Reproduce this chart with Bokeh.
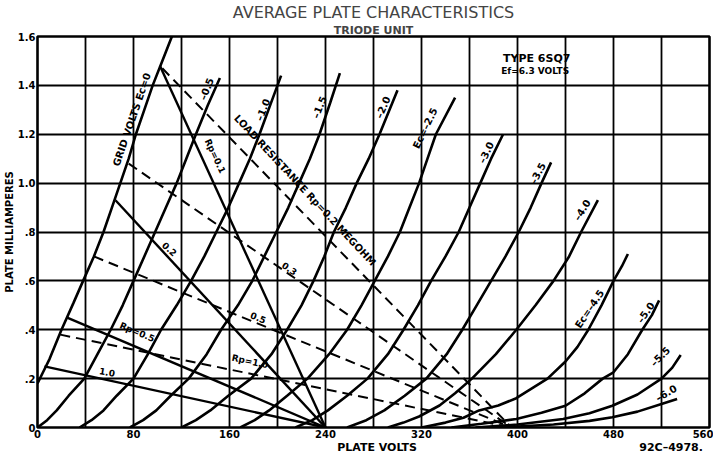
from bokeh.plotting import figure
from bokeh.models import Label, FixedTicker, Range1d, CustomJSTickFormatter, Title, LinearAxis
from bokeh.embed import file_html
from bokeh.resources import INLINE

# ---------------- data ----------------
# plate characteristics: plate volts (v) and plate milliamperes (i) per grid voltage
ec_0_v = [0, 5, 10, 20, 30, 38, 47, 55, 62, 69, 76, 82, 89, 96, 104, 112]
ec_0_i = [0.18, 0.23, 0.28, 0.40, 0.51, 0.60, 0.70, 0.80, 0.90, 1.00, 1.10, 1.20, 1.30, 1.40, 1.50, 1.60]

ec_05_v = [0, 8, 16, 26, 39, 50, 61, 71, 80, 89, 98, 107, 116, 124, 132, 142, 152]
ec_05_i = [0, 0.03, 0.07, 0.13, 0.20, 0.30, 0.40, 0.50, 0.60, 0.70, 0.80, 0.90, 1.00, 1.10, 1.20, 1.32, 1.43]

ec_10_v = [35, 45, 55, 66, 80, 92, 103, 116, 128, 139, 149, 159, 168, 177, 185, 194, 203]
ec_10_i = [0, 0.03, 0.07, 0.13, 0.20, 0.30, 0.40, 0.50, 0.60, 0.70, 0.80, 0.90, 1.00, 1.10, 1.20, 1.32, 1.44]

ec_15_v = [77, 88, 99, 111, 126, 141, 153, 167, 179, 189, 199, 209, 218, 227, 235, 244, 252]
ec_15_i = [0, 0.03, 0.07, 0.13, 0.20, 0.30, 0.40, 0.50, 0.60, 0.70, 0.80, 0.90, 1.00, 1.10, 1.20, 1.33, 1.45]

ec_20_v = [120, 132, 144, 159, 178, 195, 208, 220, 230, 239, 247, 257, 266, 276, 285, 300]
ec_20_i = [0, 0.03, 0.07, 0.13, 0.20, 0.30, 0.40, 0.50, 0.60, 0.70, 0.80, 0.90, 1.00, 1.10, 1.20, 1.38]

ec_25_v = [169, 181, 193, 208, 225, 243, 258, 270, 281, 292, 302, 310, 318, 325, 332, 348]
ec_25_i = [0, 0.03, 0.07, 0.13, 0.20, 0.30, 0.40, 0.50, 0.60, 0.70, 0.80, 0.90, 1.00, 1.10, 1.20, 1.35]

ec_30_v = [215, 229, 242, 258, 275, 292, 305, 317, 328, 340, 351, 360, 369, 378, 388]
ec_30_i = [0, 0.03, 0.07, 0.13, 0.20, 0.30, 0.40, 0.50, 0.60, 0.70, 0.80, 0.90, 1.00, 1.10, 1.20]

ec_35_v = [258, 274, 289, 306, 324, 341, 354, 366, 378, 390, 401, 411, 420, 428]
ec_35_i = [0, 0.03, 0.07, 0.13, 0.20, 0.30, 0.40, 0.50, 0.60, 0.70, 0.80, 0.90, 1.00, 1.085]

ec_40_v = [292, 305, 318, 335, 348, 362, 382, 399, 415, 430, 443, 453, 467]
ec_40_i = [0, 0.02, 0.045, 0.09, 0.14, 0.20, 0.30, 0.40, 0.50, 0.60, 0.70, 0.80, 0.93]

ec_45_v = [320, 340, 355, 368, 384, 399, 412, 425, 440, 450, 459, 470, 480, 487, 492]
ec_45_i = [0, 0.02, 0.04, 0.07, 0.09, 0.12, 0.16, 0.20, 0.27, 0.33, 0.40, 0.50, 0.60, 0.66, 0.71]

ec_50_v = [345, 370, 399, 420, 440, 456, 471, 480, 492, 504, 512, 518]
ec_50_i = [0, 0.015, 0.035, 0.06, 0.089, 0.14, 0.20, 0.226, 0.30, 0.40, 0.46, 0.52]

ec_55_v = [365, 400, 438, 460, 479, 500, 520, 529, 536]
ec_55_i = [0, 0.012, 0.035, 0.058, 0.089, 0.135, 0.20, 0.245, 0.297]

ec_60_v = [385, 430, 460, 479, 500, 520, 533]
ec_60_i = [0, 0.012, 0.027, 0.042, 0.065, 0.096, 0.117]

# load lines (solid: 240 V supply; dashed: ~395 V supply), start point on Ec=0 curve
solid_supply_v = 240
solid_start_v = [102, 65, 24.7, 5.8]
solid_start_i = [1.48, 0.93, 0.45, 0.25]

dashed_supply_v = 395
dashed_start_v = [104, 76, 47, 19]
dashed_start_i = [1.47, 1.08, 0.70, 0.38]

x_ticks = [0, 80, 160, 240, 320, 400, 480, 560]
y_ticks = [0, 0.2, 0.4, 0.6, 0.8, 1.0, 1.2, 1.4, 1.6]

curves = [(ec_0_v, ec_0_i), (ec_05_v, ec_05_i), (ec_10_v, ec_10_i), (ec_15_v, ec_15_i),
          (ec_20_v, ec_20_i), (ec_25_v, ec_25_i), (ec_30_v, ec_30_i), (ec_35_v, ec_35_i),
          (ec_40_v, ec_40_i), (ec_45_v, ec_45_i), (ec_50_v, ec_50_i), (ec_55_v, ec_55_i),
          (ec_60_v, ec_60_i)]

FONT = "DejaVu Sans"

# ---------------- figure ----------------
p = figure(frame_width=672, frame_height=391,
           x_range=Range1d(0, 560), y_range=Range1d(0, 1.6),
           output_backend="svg", toolbar_location=None,
           min_border_left=29, min_border_right=4, min_border_top=29, min_border_bottom=0)
p.background_fill_color = "white"
p.border_fill_color = "white"
p.outline_line_color = "black"
p.outline_line_width = 2.6

p.xgrid.ticker = FixedTicker(ticks=list(range(0, 561, 40)))
p.ygrid.ticker = FixedTicker(ticks=y_ticks)
for g in (p.xgrid, p.ygrid):
    g.grid_line_color = "black"
    g.grid_line_width = 1.8
    g.grid_line_alpha = 1.0

p.xaxis.ticker = FixedTicker(ticks=x_ticks)
p.yaxis.ticker = FixedTicker(ticks=y_ticks)
p.yaxis.formatter = CustomJSTickFormatter(code="""
if (Math.abs(tick) < 1e-9) return "0";
if (tick < 0.99) return "." + Math.round(tick * 10);
return tick.toFixed(1);
""")
p.yaxis.axis_label = "PLATE MILLIAMPERES"
for ax in (p.xaxis, p.yaxis):
    ax.axis_line_color = None
    ax.major_tick_line_color = None
    ax.minor_tick_line_color = None
    ax.major_tick_out = 0
    ax.major_label_text_font = FONT
    ax.major_label_text_font_style = "bold"
    ax.major_label_text_font_size = "10px"
    ax.major_label_text_color = "black"
    ax.major_label_standoff = 2
    ax.axis_label_text_font = FONT
    ax.axis_label_text_font_style = "bold"
    ax.axis_label_text_font_size = "10px"
    ax.axis_label_text_color = "black"
p.yaxis.axis_label_standoff = 0

# second row below the x axis: axis title and drawing number
info_axis = LinearAxis(ticker=FixedTicker(ticks=[283, 528]),
                       formatter=CustomJSTickFormatter(code='return tick < 400 ? "PLATE VOLTS" : "92C\u20134978.";'))
info_axis.axis_line_color = None
info_axis.major_tick_line_color = None
info_axis.minor_tick_line_color = None
info_axis.major_tick_out = 0
info_axis.major_label_standoff = 0
info_axis.major_label_text_font = FONT
info_axis.major_label_text_font_style = "bold"
info_axis.major_label_text_font_size = "11px"
info_axis.major_label_text_color = "black"
p.add_layout(info_axis, "below")

# titles (first added sits nearest the plot)
p.add_layout(Title(text="TRIODE UNIT", align="center", text_font=FONT, text_font_size="11px",
                   text_font_style="bold", standoff=0, offset=0), "above")
p.add_layout(Title(text="AVERAGE PLATE CHARACTERISTICS", align="center", text_font=FONT,
                   text_font_size="16px", text_font_style="normal", standoff=0, offset=0), "above")

# curves
for v, i in curves:
    p.line(v, i, line_color="black", line_width=2.6)

# load lines
for sv, si in zip(solid_start_v, solid_start_i):
    p.line([sv, solid_supply_v], [si, 0], line_color="black", line_width=2.4)
for sv, si in zip(dashed_start_v, dashed_start_i):
    p.line([sv, dashed_supply_v], [si, 0], line_color="black", line_width=2.0, line_dash="10 6")


def lab(text, x, y, angle=0, size="10px", bold=True):
    p.add_layout(Label(x=x, y=y, text=text, angle=angle, angle_units="deg",
                       text_align="center", text_baseline="middle",
                       text_font=FONT, text_font_size=size,
                       text_font_style="bold" if bold else "normal",
                       text_color="black"))

# grid-voltage labels
lab("GRID  VOLTS   Ec=0", 80, 1.28, 71)
lab("\u20130.5", 141, 1.385, 68)
lab("\u20131.0", 188, 1.30, 68)
lab("\u20131.5", 235, 1.31, 68)
lab("\u20132.0", 288, 1.31, 66)
lab("Ec=\u20132.5", 323, 1.225, 64)
lab("\u20133.0", 374, 1.125, 64)
lab("\u20133.5", 417, 1.04, 62)
lab("\u20134.0", 454, 0.89, 58)
lab("Ec=\u20134.5", 460, 0.485, 56)
lab("\u20135.0", 507, 0.47, 55)
lab("\u20135.5", 519, 0.29, 45)
lab("\u20136.0", 524, 0.14, 30)

# load-resistance labels
lab("Rp=0.1", 148, 1.11, -65, size="9px")
lab("LOAD  RESISTANCE  Rp=0.2  MEGOHM", 226, 0.955, -47, size="10px")
lab("0.2", 110, 0.73, -42, size="9px")
lab("0.3", 210, 0.65, -34, size="9px")
lab("0.5", 184, 0.45, -22, size="9px")
lab("Rp=0.5", 83, 0.39, -23, size="9px")
lab("Rp=1.0", 177, 0.27, -12, size="9px")
lab("1.0", 58, 0.227, -10, size="9px")

# info box
lab("TYPE 6SQ7", 416, 1.511, 0, size="11px")
lab("Ef=6.3  VOLTS", 416, 1.458, 0, size="9px")

open("out.html", "w").write(file_html(p, INLINE))
